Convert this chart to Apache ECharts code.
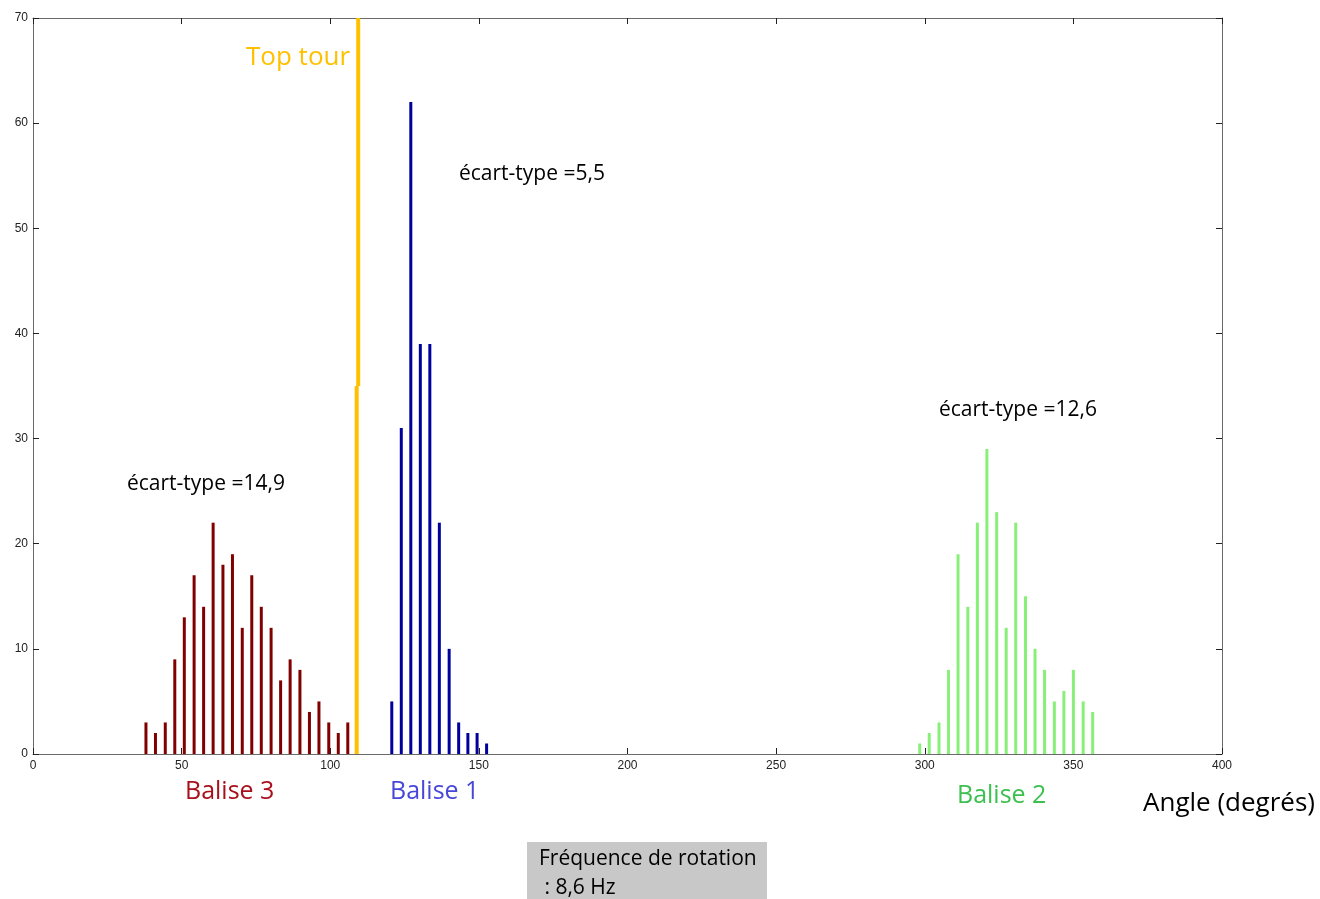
<!DOCTYPE html>
<html><head><meta charset="utf-8">
<script src="https://cdn.jsdelivr.net/npm/echarts@6/dist/echarts.min.js"></script>
<style>html,body{margin:0;padding:0;background:#fff}#c{width:1320px;height:899px}</style>
</head><body><div id="c"></div>
<script>
// Balise 3 (dark red)
const angles3 = [38.0,41.2,44.5,47.7,50.9,54.2,57.4,60.6,63.9,67.1,70.4,73.6,76.8,80.1,83.3,86.5,89.8,93.0,96.2,99.5,102.7,105.9];
const counts3 = [3,2,3,9,13,17,14,22,18,19,12,17,14,12,7,9,8,4,5,3,2,3];
// Balise 1 (blue)
const angles1 = [120.7,123.9,127.1,130.3,133.5,136.7,140.0,143.2,146.3,149.4,152.6];
const counts1 = [5,31,62,39,39,22,10,3,2,2,1];
// Balise 2 (green)
const angles2 = [298.3,301.5,304.8,308.0,311.2,314.5,317.7,320.9,324.2,327.4,330.6,333.9,337.1,340.3,343.6,346.8,350.0,353.3,356.5];
const counts2 = [1,2,3,8,19,14,22,29,23,12,22,15,10,8,5,6,8,5,4];
// Top tour marker
const topTourLow = [[108.9,0],[108.9,35]];
const topTourHigh = [[109.4,35],[109.4,70]];
const xTicks = {min:0, max:400, interval:50};
const yTicks = {min:0, max:70, interval:10};

const chart = echarts.init(document.getElementById('c'), null, {renderer:'canvas'});
const zip = (a,b)=>a.map((v,i)=>[v,b[i]]);
const F = '"Open Sans", Lato, sans-serif';
const tickFont = {fontFamily:'"Liberation Sans", Arial, sans-serif', fontSize:12, color:'#222'};
const axisLine = {show:true, onZero:false, lineStyle:{color:'#6a6a6a', width:1}};
const axisTick = {show:true, inside:true, length:6, lineStyle:{color:'#222'}};
function bar(name, data, color){
  return {type:'bar', name, data, barWidth:3, barGap:'-100%', itemStyle:{color}, silent:true, animation:false};
}
chart.setOption({
  animation:false,
  grid:{left:33, top:18, right:98, bottom:145, containLabel:false},
  xAxis:[
    {type:'value', min:xTicks.min, max:xTicks.max, interval:xTicks.interval, position:'bottom',
     axisLine, axisTick, splitLine:{show:false}, axisLabel:Object.assign({margin:6}, tickFont)},
    {type:'value', min:xTicks.min, max:xTicks.max, interval:xTicks.interval, position:'top',
     axisLine, axisTick, splitLine:{show:false}, axisLabel:{show:false}}
  ],
  yAxis:[
    {type:'value', min:yTicks.min, max:yTicks.max, interval:yTicks.interval, position:'left',
     axisLine, axisTick, splitLine:{show:false}, axisLabel:Object.assign({margin:5}, tickFont)},
    {type:'value', min:yTicks.min, max:yTicks.max, interval:yTicks.interval, position:'right',
     axisLine, axisTick, splitLine:{show:false}, axisLabel:{show:false}}
  ],
  series:[
    bar('Balise 3', zip(angles3, counts3), '#800000'),
    bar('Balise 1', zip(angles1, counts1), '#00009c'),
    bar('Balise 2', zip(angles2, counts2), '#88f078'),
    {type:'line', data:topTourLow, symbol:'none', lineStyle:{color:'#ffc000', width:4}, silent:true},
    {type:'line', data:topTourHigh, symbol:'none', lineStyle:{color:'#ffc000', width:4}, silent:true}
  ],
  graphic:[
    {type:'text', left:246, top:45, style:{text:'Top tour', font:'26px '+F, fill:'#ffc000'}},
    {type:'text', left:459, top:164, style:{text:'écart-type =5,5', font:'21px '+F, fill:'#000'}},
    {type:'text', left:127, top:474, style:{text:'écart-type =14,9', font:'21px '+F, fill:'#000'}},
    {type:'text', left:939, top:400, style:{text:'écart-type =12,6', font:'21px '+F, fill:'#000'}},
    {type:'text', left:185, top:779, style:{text:'Balise 3', font:'25px '+F, fill:'#a8101c'}},
    {type:'text', left:390, top:779, style:{text:'Balise 1', font:'25px '+F, fill:'#4848d8'}},
    {type:'text', left:957, top:783, style:{text:'Balise 2', font:'25px '+F, fill:'#3cc050'}},
    {type:'text', left:1143, top:791, style:{text:'Angle (degrés)', font:'26px '+F, fill:'#000'}},
    {type:'rect', shape:{x:527, y:842, width:240, height:60}, style:{fill:'#c8c8c8'}},
    {type:'text', left:539, top:849, style:{text:'Fréquence de rotation', font:'21px '+F, fill:'#000'}},
    {type:'text', left:539, top:878, style:{text:' : 8,6 Hz', font:'21px '+F, fill:'#000'}}
  ]
});
</script></body></html>
